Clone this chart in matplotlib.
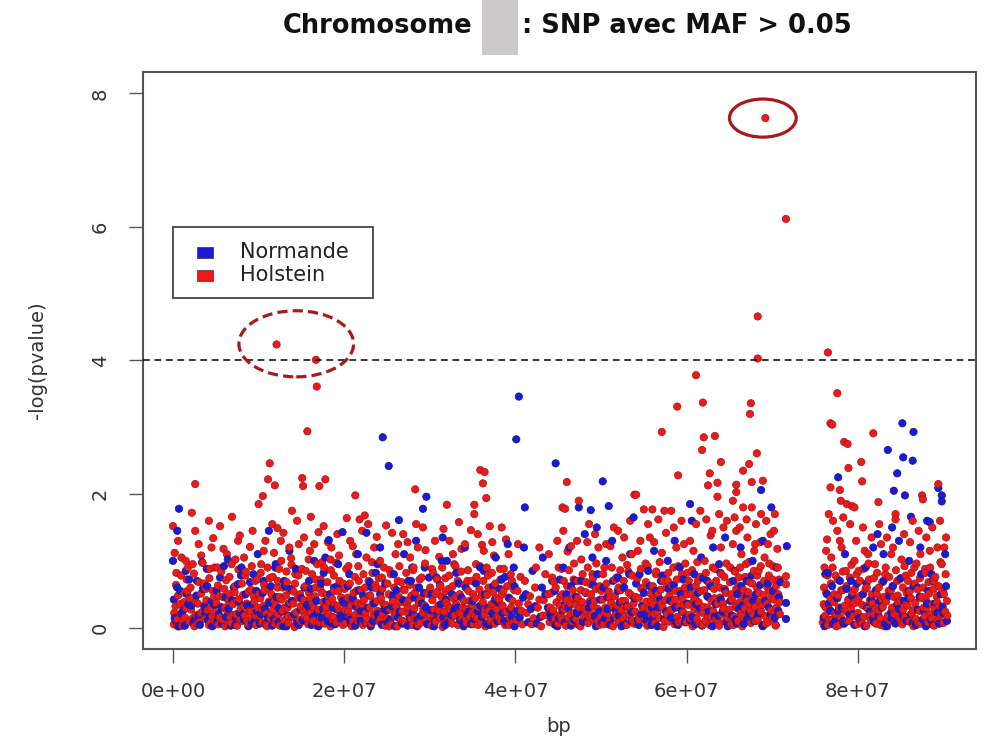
import numpy as np
import matplotlib.pyplot as plt
from matplotlib.patches import Ellipse, Rectangle

# Holstein SNPs : (position in Mb, -log(pvalue))
holstein = [
    # 0-5 Mb
    (0.1, 0.05), (0.3, 0.32), (0.5, 0.12), (0.6, 0.48), (0.9, 0.21), (1.1, 0.03), (1.3, 0.38), (1.4, 0.15),
    (1.7, 0.55), (1.9, 0.09), (2.1, 0.27), (2.2, 0.44), (2.5, 0.02), (2.7, 0.19), (2.9, 0.36), (3.1, 0.08),
    (3.3, 0.51), (3.5, 0.24), (3.8, 0.13), (3.9, 0.41), (4.2, 0.04), (4.4, 0.29), (4.6, 0.17), (4.8, 0.46),
    (4.9, 0.1), (0.2, 1.12), (0.4, 0.82), (1.0, 1.05), (1.6, 0.72), (2.3, 0.95), (3.0, 1.25), (3.6, 0.66),
    (4.3, 0.88), (4.7, 1.34), (0.0, 1.52), (2.2, 1.72), (4.2, 1.6), (2.6, 2.15),
    # 5-10 Mb
    (5.1, 0.22), (5.3, 0.05), (5.4, 0.47), (5.6, 0.31), (5.8, 0.12), (6.0, 0.58), (6.1, 0.02), (6.3, 0.26),
    (6.5, 0.4), (6.7, 0.16), (6.8, 0.07), (7.0, 0.35), (7.2, 0.53), (7.4, 0.2), (7.5, 0.03), (7.7, 0.43),
    (7.9, 0.28), (8.1, 0.1), (8.2, 0.49), (8.4, 0.18), (8.6, 0.36), (8.8, 0.06), (8.9, 0.25), (9.1, 0.57),
    (9.3, 0.14), (9.5, 0.39), (9.7, 0.04), (9.9, 0.3), (5.2, 0.9), (5.9, 1.18), (6.6, 0.76), (7.3, 1.02),
    (7.8, 1.38), (8.5, 0.84), (9.0, 1.21), (9.6, 0.7), (6.9, 1.66), (10.0, 1.85), (10.5, 1.97),
    # 10-15 Mb
    (10.1, 0.17), (10.2, 0.44), (10.4, 0.08), (10.6, 0.33), (10.7, 0.56), (10.9, 0.21), (11.0, 0.02), (11.2, 0.39),
    (11.4, 0.13), (11.5, 0.5), (11.7, 0.27), (11.9, 0.06), (12.0, 0.34), (12.2, 0.6), (12.3, 0.19), (12.5, 0.03),
    (12.7, 0.42), (12.8, 0.25), (13.0, 0.11), (13.2, 0.48), (13.4, 0.3), (13.5, 0.07), (13.7, 0.37), (13.9, 0.16),
    (14.1, 0.54), (14.2, 0.01), (14.4, 0.23), (14.6, 0.45), (14.8, 0.12), (14.9, 0.32), (10.3, 0.95), (10.8, 1.3),
    (11.3, 0.74), (11.8, 1.12), (12.4, 0.88), (12.9, 1.42), (13.3, 0.68), (13.8, 1.04), (14.3, 0.8), (14.7, 1.25),
    (12.2, 1.49), (13.9, 1.75), (11.1, 2.22), (11.9, 2.13), (11.3, 2.46), (15.1, 2.24), (15.2, 2.12), (17.8, 2.22),
    (17.1, 2.12), (17.0, 1.43), (16.1, 1.66), (12.1, 4.24), (16.7, 4.01), (16.8, 3.61), (15.7, 2.94),
    # 15-20 Mb
    (15.0, 0.09), (15.3, 0.41), (15.4, 0.18), (15.6, 0.29), (15.8, 0.05), (15.9, 0.52), (16.1, 0.22), (16.3, 0.36),
    (16.4, 0.1), (16.6, 0.47), (16.8, 0.03), (17.0, 0.27), (17.2, 0.58), (17.3, 0.14), (17.5, 0.38), (17.7, 0.06),
    (17.9, 0.31), (18.0, 0.49), (18.2, 0.2), (18.4, 0.02), (18.6, 0.43), (18.7, 0.16), (18.9, 0.34), (19.1, 0.08),
    (19.3, 0.55), (19.5, 0.24), (19.6, 0.12), (19.8, 0.4), (15.5, 0.85), (16.0, 1.15), (16.7, 0.72), (17.4, 0.98),
    (18.1, 1.28), (18.8, 0.78), (19.4, 1.08), (19.9, 0.66), (20.3, 1.64), (21.8, 1.62), (22.4, 1.68), (21.3, 1.98),
    (18.5, 1.2),
    # 20-25 Mb
    (20.1, 0.26), (20.2, 0.07), (20.4, 0.45), (20.6, 0.15), (20.8, 0.33), (20.9, 0.02), (21.1, 0.52), (21.3, 0.19),
    (21.5, 0.37), (21.6, 0.1), (21.8, 0.29), (22.0, 0.56), (22.2, 0.04), (22.3, 0.41), (22.5, 0.22), (22.7, 0.13),
    (22.9, 0.48), (23.0, 0.3), (23.2, 0.06), (23.4, 0.38), (23.6, 0.17), (23.7, 0.59), (23.9, 0.25), (24.1, 0.09),
    (24.3, 0.44), (24.5, 0.2), (24.6, 0.35), (24.8, 0.03), (20.5, 0.92), (21.0, 1.22), (21.7, 0.7), (22.6, 1.05),
    (23.3, 0.82), (23.8, 1.36), (24.4, 0.75), (24.9, 1.53), (22.1, 1.45),
    # 25-30 Mb
    (25.0, 0.14), (25.2, 0.5), (25.4, 0.27), (25.5, 0.05), (25.7, 0.39), (25.9, 0.18), (26.1, 0.31), (26.2, 0.02),
    (26.4, 0.46), (26.6, 0.11), (26.8, 0.24), (26.9, 0.57), (27.1, 0.08), (27.3, 0.35), (27.5, 0.2), (27.6, 0.42),
    (27.8, 0.13), (28.0, 0.04), (28.2, 0.29), (28.3, 0.53), (28.5, 0.16), (28.7, 0.37), (28.9, 0.07), (29.0, 0.45),
    (29.2, 0.22), (29.4, 0.33), (29.6, 0.1), (29.8, 0.5), (25.3, 0.86), (26.0, 1.1), (26.7, 0.68), (27.4, 1.28),
    (28.1, 0.9), (28.8, 0.72), (29.5, 1.16), (28.3, 2.07), (28.4, 1.55), (26.9, 1.4),
    # 30-35 Mb
    (30.0, 0.19), (30.2, 0.03), (30.3, 0.41), (30.5, 0.27), (30.7, 0.09), (30.9, 0.54), (31.0, 0.33), (31.2, 0.15),
    (31.4, 0.46), (31.5, 0.01), (31.7, 0.24), (31.9, 0.38), (32.1, 0.11), (32.2, 0.58), (32.4, 0.3), (32.6, 0.06),
    (32.8, 0.43), (32.9, 0.18), (33.1, 0.35), (33.3, 0.04), (33.5, 0.5), (33.6, 0.21), (33.8, 0.12), (34.0, 0.4),
    (34.2, 0.28), (34.3, 0.07), (34.5, 0.55), (34.7, 0.16), (34.9, 0.34), (30.4, 0.82), (31.1, 1.06), (31.8, 0.74),
    (32.3, 1.3), (33.0, 0.92), (33.7, 1.18), (34.4, 0.7), (32.0, 1.84), (35.2, 1.84), (35.2, 1.7), (36.6, 1.94),
    (35.9, 2.36), (36.4, 2.33), (36.2, 2.16), (34.8, 1.46),
    # 35-40 Mb
    (35.0, 0.23), (35.1, 0.05), (35.3, 0.44), (35.5, 0.14), (35.7, 0.31), (35.8, 0.57), (36.0, 0.08), (36.2, 0.38),
    (36.4, 0.19), (36.5, 0.02), (36.7, 0.49), (36.9, 0.26), (37.1, 0.12), (37.2, 0.35), (37.4, 0.53), (37.6, 0.06),
    (37.8, 0.28), (37.9, 0.17), (38.1, 0.42), (38.3, 0.1), (38.5, 0.33), (38.6, 0.55), (38.8, 0.04), (39.0, 0.24),
    (39.2, 0.45), (39.3, 0.15), (39.5, 0.3), (39.7, 0.07), (35.4, 0.95), (36.1, 1.24), (36.8, 0.78), (37.5, 1.08),
    (38.2, 0.88), (38.9, 1.32), (39.6, 0.7), (37.0, 1.52),
    # 40-45 Mb
    (40.1, 0.11), (40.4, 0.36), (40.8, 0.05), (41.3, 0.22), (41.7, 0.47), (42.1, 0.14), (42.6, 0.3), (43.0, 0.02),
    (43.3, 0.41), (43.7, 0.19), (44.0, 0.08), (44.2, 0.52), (44.4, 0.26), (44.6, 0.13), (44.8, 0.38), (40.6, 0.76),
    (42.4, 0.9), (43.9, 1.1), (44.5, 0.68), (45.8, 1.78), (45.5, 1.8), (46.0, 2.18), (47.4, 1.9), (44.9, 1.3),
    # 45-50 Mb
    (45.0, 0.06), (45.2, 0.33), (45.3, 0.18), (45.5, 0.5), (45.7, 0.27), (45.9, 0.03), (46.0, 0.41), (46.2, 0.15),
    (46.4, 0.36), (46.6, 0.09), (46.7, 0.56), (46.9, 0.22), (47.1, 0.13), (47.3, 0.44), (47.5, 0.3), (47.6, 0.02),
    (47.8, 0.38), (48.0, 0.17), (48.2, 0.53), (48.3, 0.25), (48.5, 0.07), (48.7, 0.4), (48.9, 0.2), (49.1, 0.32),
    (49.2, 0.11), (49.4, 0.58), (49.6, 0.28), (49.8, 0.04), (45.4, 0.88), (46.1, 1.14), (46.8, 0.72), (47.7, 1.02),
    (48.4, 1.28), (49.0, 0.8), (49.7, 1.2), (48.8, 0.65),
    # 50-55 Mb
    (50.0, 0.16), (50.2, 0.42), (50.3, 0.05), (50.5, 0.3), (50.7, 0.21), (50.9, 0.54), (51.0, 0.1), (51.2, 0.37),
    (51.4, 0.02), (51.6, 0.47), (51.7, 0.19), (51.9, 0.33), (52.1, 0.08), (52.3, 0.56), (52.4, 0.26), (52.6, 0.13),
    (52.8, 0.4), (53.0, 0.04), (53.1, 0.31), (53.3, 0.2), (53.5, 0.49), (53.7, 0.11), (53.8, 0.36), (54.0, 0.24),
    (54.2, 0.06), (54.4, 0.44), (54.5, 0.17), (54.7, 0.59), (54.9, 0.29), (50.4, 0.9), (51.1, 1.22), (51.8, 0.75),
    (52.5, 1.05), (53.2, 0.84), (53.9, 1.99), (54.1, 1.99), (54.6, 1.3), (55.0, 1.77), (56.0, 1.77), (53.6, 1.1),
    (52.0, 1.45),
    # 55-60 Mb
    (55.1, 0.12), (55.3, 0.39), (55.4, 0.03), (55.6, 0.27), (55.8, 0.51), (55.9, 0.18), (56.1, 0.35), (56.3, 0.07),
    (56.5, 0.45), (56.6, 0.22), (56.8, 0.14), (57.0, 0.57), (57.2, 0.3), (57.3, 0.01), (57.5, 0.41), (57.7, 0.2),
    (57.9, 0.09), (58.0, 0.48), (58.2, 0.26), (58.4, 0.37), (58.6, 0.05), (58.7, 0.55), (58.9, 0.16), (59.1, 0.32),
    (59.3, 0.1), (59.5, 0.43), (59.6, 0.23), (59.8, 0.6), (55.2, 0.96), (55.7, 1.35), (56.4, 0.8), (57.1, 1.12),
    (57.4, 1.75), (58.2, 1.75), (57.8, 0.7), (58.5, 1.5), (59.0, 0.92), (59.7, 1.25), (59.0, 2.28), (57.1, 2.93),
    (58.9, 3.31),
    # 60-65 Mb
    (60.0, 0.08), (60.2, 0.34), (60.3, 0.19), (60.5, 0.5), (60.7, 0.02), (60.9, 0.28), (61.0, 0.43), (61.2, 0.13),
    (61.4, 0.38), (61.5, 0.06), (61.7, 0.55), (61.9, 0.22), (62.0, 0.31), (62.2, 0.1), (62.4, 0.47), (62.5, 0.17),
    (62.7, 0.04), (62.9, 0.4), (63.1, 0.25), (63.2, 0.58), (63.4, 0.12), (63.6, 0.36), (63.8, 0.03), (63.9, 0.45),
    (64.1, 0.2), (64.3, 0.29), (64.5, 0.09), (64.6, 0.52), (64.8, 0.15), (60.1, 0.82), (60.8, 1.15), (61.3, 0.7),
    (61.6, 1.75), (62.1, 1.0), (62.8, 1.38), (63.3, 0.88), (63.6, 1.96), (64.0, 1.2), (64.4, 0.76), (62.7, 2.31),
    (62.5, 2.13), (63.6, 2.17), (64.0, 2.48), (61.8, 2.66), (62.0, 2.85), (63.3, 2.87), (61.9, 3.37), (61.1, 3.78),
    (64.7, 1.6),
    # 65-72 Mb
    (65.0, 0.27), (65.2, 0.05), (65.3, 0.42), (65.5, 0.16), (65.7, 0.33), (65.8, 0.58), (66.0, 0.1), (66.2, 0.38),
    (66.3, 0.21), (66.5, 0.02), (66.7, 0.47), (66.8, 0.29), (67.0, 0.13), (67.2, 0.53), (67.3, 0.35), (67.5, 0.07),
    (67.7, 0.44), (67.8, 0.19), (68.0, 0.31), (68.2, 0.6), (68.3, 0.11), (68.5, 0.39), (68.7, 0.24), (68.8, 0.04),
    (69.0, 0.49), (69.2, 0.17), (69.4, 0.36), (69.5, 0.08), (69.7, 0.55), (69.9, 0.26), (70.0, 0.14), (70.2, 0.42),
    (70.4, 0.03), (70.5, 0.3), (70.7, 0.5), (70.9, 0.2), (65.1, 0.9), (65.4, 1.25), (65.8, 1.45), (66.1, 0.75),
    (66.4, 1.1), (66.6, 1.8), (66.9, 0.95), (67.1, 1.35), (67.4, 0.68), (67.6, 1.8), (67.9, 1.15), (68.1, 1.55),
    (68.4, 0.85), (68.6, 1.28), (68.9, 2.2), (69.1, 1.05), (69.3, 1.6), (69.6, 0.78), (69.8, 1.4), (70.1, 0.92),
    (70.3, 1.7), (70.6, 1.18), (70.8, 0.72), (65.8, 2.14), (65.8, 2.03), (67.6, 2.18), (68.2, 2.61), (67.3, 2.45),
    (65.4, 1.9), (66.6, 2.35), (67.5, 3.36), (67.4, 3.2), (68.3, 4.66), (68.3, 4.03), (69.2, 7.63), (71.6, 6.12),
    (71.6, 0.77), (71.6, 0.65),
    # 76-80 Mb
    (75.9, 0.08), (76.0, 0.35), (76.2, 0.18), (76.3, 0.52), (76.5, 0.04), (76.7, 0.27), (76.8, 0.44), (77.0, 0.12),
    (77.2, 0.38), (77.3, 0.21), (77.5, 0.02), (77.7, 0.48), (77.8, 0.3), (78.0, 0.15), (78.2, 0.56), (78.3, 0.07),
    (78.5, 0.33), (78.7, 0.24), (78.9, 0.41), (79.0, 0.1), (79.2, 0.29), (79.4, 0.53), (79.5, 0.17), (79.7, 0.37),
    (79.9, 0.05), (76.1, 0.9), (76.4, 1.32), (76.6, 1.7), (76.9, 1.05), (77.4, 0.78), (77.6, 1.45), (78.1, 1.2),
    (78.6, 0.85), (79.1, 1.55), (79.6, 1.0), (76.8, 2.1), (77.9, 2.06), (78.0, 1.9), (78.7, 1.85), (79.3, 1.82),
    (79.6, 1.8), (78.9, 2.39), (78.4, 2.78), (78.8, 2.75), (76.8, 3.06), (77.0, 3.04), (77.6, 3.51), (76.5, 4.12),
    (80.5, 2.19), (80.4, 2.48), (81.8, 2.91), (82.4, 1.88),
    # 80-85 Mb
    (80.0, 0.22), (80.2, 0.47), (80.3, 0.09), (80.5, 0.34), (80.7, 0.16), (80.9, 0.58), (81.0, 0.03), (81.2, 0.28),
    (81.4, 0.41), (81.5, 0.12), (81.7, 0.36), (81.9, 0.2), (82.1, 0.06), (82.2, 0.5), (82.4, 0.26), (82.6, 0.14),
    (82.8, 0.43), (82.9, 0.31), (83.1, 0.02), (83.3, 0.39), (83.5, 0.18), (83.6, 0.55), (83.8, 0.1), (84.0, 0.3),
    (84.2, 0.46), (84.3, 0.07), (84.5, 0.23), (84.7, 0.37), (84.9, 0.13), (80.1, 0.85), (80.8, 1.15), (81.3, 0.72),
    (81.6, 1.35), (82.0, 0.95), (82.7, 1.25), (83.2, 0.8), (83.9, 1.1), (84.4, 1.7), (84.4, 1.62), (84.6, 0.7),
    # 85-91 Mb
    (85.0, 0.4), (85.2, 0.05), (85.3, 0.27), (85.5, 0.16), (85.7, 0.52), (85.8, 0.33), (86.0, 0.09), (86.2, 0.44),
    (86.3, 0.21), (86.5, 0.02), (86.7, 0.37), (86.8, 0.13), (87.0, 0.57), (87.2, 0.25), (87.3, 0.06), (87.5, 0.46),
    (87.7, 0.3), (87.8, 0.17), (88.0, 0.4), (88.2, 0.08), (88.3, 0.51), (88.5, 0.2), (88.7, 0.35), (88.9, 0.03),
    (89.0, 0.28), (89.2, 0.47), (89.4, 0.11), (89.5, 0.33), (89.7, 0.19), (89.9, 0.55), (90.0, 0.07), (90.2, 0.24),
    (90.4, 0.4), (85.1, 1.02), (85.6, 0.78), (86.1, 1.28), (86.6, 0.9), (87.1, 1.45), (87.5, 1.98), (87.6, 1.92),
    (87.9, 0.82), (88.4, 1.15), (88.9, 0.7), (89.4, 2.15), (89.3, 1.2), (89.8, 0.95), (90.3, 1.35),
]

# Holstein, bande dense du bas (0 - 1.7)
holstein_band = [
    (0.15, 0.22), (0.35, 0.64), (0.55, 0.02), (0.8, 0.35), (0.95, 0.78), (1.15, 0.11), (1.35, 0.52), (1.55, 0.29), (1.75, 0.9), (1.95, 0.43),
    (2.05, 0.6), (2.3, 0.14), (2.45, 0.81), (2.65, 0.39), (2.85, 0.06), (3.05, 0.68), (3.25, 0.22), (3.45, 0.97), (3.65, 0.33), (3.85, 0.58),
    (4.05, 0.26), (4.25, 0.74), (4.45, 0.08), (4.65, 0.55), (4.85, 0.9), (5.05, 0.37), (5.25, 0.63), (5.45, 0.15), (5.65, 0.84), (5.85, 0.46),
    (6.05, 0.3), (6.2, 0.71), (6.45, 0.05), (6.6, 0.5), (6.85, 0.95), (7.05, 0.19), (7.25, 0.62), (7.45, 0.4), (7.65, 0.87), (7.85, 0.12),
    (8.05, 0.66), (8.25, 0.32), (8.45, 0.78), (8.65, 0.1), (8.85, 0.54), (9.05, 0.24), (9.2, 0.92), (9.45, 0.47), (9.65, 0.18), (9.85, 0.72),
    (10.05, 0.5), (10.25, 0.82), (10.45, 0.28), (10.65, 0.64), (10.85, 0.04), (11.05, 0.9), (11.25, 0.58), (11.45, 0.2), (11.65, 0.76), (11.85, 0.4),
    (12.05, 0.1), (12.25, 0.7), (12.45, 0.46), (12.65, 1.0), (12.85, 0.6), (13.05, 0.3), (13.25, 0.84), (13.45, 0.17), (13.65, 0.56), (13.85, 0.94),
    (14.05, 0.36), (14.25, 0.66), (14.45, 0.05), (14.65, 0.78), (14.85, 0.5), (15.05, 0.88), (15.25, 0.24), (15.45, 0.62), (15.65, 0.14), (15.85, 1.02),
    (16.05, 0.44), (16.25, 0.8), (16.45, 0.3), (16.65, 0.6), (16.85, 0.95), (17.05, 0.08), (17.25, 0.72), (17.45, 0.52), (17.65, 0.9), (17.85, 0.25),
    (18.05, 0.68), (18.25, 0.38), (18.45, 0.86), (18.65, 0.12), (18.85, 0.55), (19.05, 0.97), (19.25, 0.32), (19.45, 0.7), (19.65, 0.45), (19.85, 0.04),
    (20.05, 0.58), (20.25, 0.88), (20.45, 0.24), (20.65, 0.66), (20.85, 0.42), (21.05, 0.1), (21.25, 0.76), (21.45, 0.55), (21.65, 0.92), (21.85, 0.18),
    (22.05, 0.35), (22.25, 0.8), (22.45, 0.6), (22.65, 0.07), (22.85, 0.7), (23.05, 0.48), (23.25, 0.98), (23.45, 0.2), (23.65, 0.64), (23.85, 0.4),
    (24.05, 0.74), (24.25, 0.13), (24.45, 0.58), (24.65, 0.9), (24.85, 0.34), (25.05, 0.66), (25.25, 0.02), (25.45, 0.8), (25.65, 0.45), (25.85, 0.6),
    (26.05, 0.2), (26.25, 0.7), (26.45, 0.92), (26.65, 0.38), (26.85, 0.1), (27.05, 0.56), (27.25, 0.82), (27.45, 0.3), (27.65, 0.64), (27.85, 0.48),
    (28.05, 0.86), (28.25, 0.16), (28.45, 0.6), (28.65, 0.04), (28.85, 0.42), (29.05, 0.75), (29.25, 0.28), (29.45, 0.96), (29.65, 0.52), (29.85, 0.2),
    (30.05, 0.6), (30.25, 0.88), (30.45, 0.12), (30.65, 0.5), (30.85, 0.72), (31.05, 0.26), (31.25, 0.62), (31.45, 0.9), (31.65, 0.06), (31.85, 0.54),
    (32.05, 0.34), (32.25, 0.78), (32.45, 0.14), (32.65, 0.62), (32.85, 0.95), (33.05, 0.46), (33.25, 0.7), (33.45, 0.22), (33.65, 0.84), (33.85, 0.3),
    (34.05, 0.64), (34.25, 0.12), (34.45, 0.86), (34.65, 0.4), (34.85, 0.7), (35.05, 0.5), (35.25, 0.18), (35.45, 0.76), (35.65, 0.04), (35.85, 0.92),
    (36.05, 0.48), (36.25, 0.7), (36.45, 0.28), (36.65, 0.9), (36.85, 0.6), (37.05, 0.1), (37.25, 0.82), (37.45, 0.36), (37.65, 0.66), (37.85, 0.44),
    (38.05, 0.15), (38.25, 0.72), (38.45, 0.5), (38.65, 0.88), (38.85, 0.24), (39.05, 0.62), (39.25, 0.04), (39.45, 0.8), (39.65, 0.4), (39.85, 0.56),
    (40.25, 0.55), (40.7, 0.25), (41.1, 0.7), (41.5, 0.35), (41.9, 0.05), (42.3, 0.6), (42.8, 0.42), (43.2, 0.18), (43.5, 0.8), (43.85, 0.5),
    (44.05, 0.3), (44.3, 0.75), (44.7, 0.6), (45.05, 0.9), (45.25, 0.46), (45.45, 0.12), (45.65, 0.7), (45.85, 0.32), (44.55, 0.05), (44.9, 0.18),
    (46.05, 0.62), (46.25, 0.86), (46.45, 0.2), (46.65, 0.44), (46.85, 0.96), (47.05, 0.34), (47.25, 0.7), (47.45, 0.06), (47.65, 0.56), (47.85, 0.8),
    (48.05, 0.28), (48.25, 0.68), (48.45, 0.9), (48.65, 0.16), (48.85, 0.5), (49.05, 0.74), (49.25, 0.4), (49.45, 0.96), (49.65, 0.1), (49.85, 0.62),
    (50.05, 0.55), (50.25, 0.8), (50.45, 0.22), (50.65, 0.66), (50.85, 0.05), (51.05, 0.44), (51.25, 0.9), (51.45, 0.3), (51.65, 0.72), (51.85, 0.14),
    (52.05, 0.6), (52.25, 0.86), (52.45, 0.4), (52.65, 0.7), (52.85, 0.18), (53.05, 0.94), (53.25, 0.52), (53.45, 0.26), (53.65, 0.78), (53.85, 0.06),
    (54.05, 0.46), (54.25, 0.74), (54.45, 0.12), (54.65, 0.88), (54.85, 0.58), (55.05, 0.3), (55.25, 0.68), (55.45, 0.92), (55.65, 0.04), (55.85, 0.4),
    (56.05, 0.62), (56.25, 0.2), (56.45, 0.84), (56.65, 0.5), (56.85, 0.98), (57.05, 0.36), (57.25, 0.7), (57.45, 0.1), (57.65, 0.6), (57.85, 0.82),
    (58.05, 0.26), (58.25, 0.64), (58.45, 0.9), (58.65, 0.42), (58.85, 0.72), (59.05, 0.08), (59.25, 0.55), (59.45, 0.8), (59.65, 0.34), (59.85, 0.96),
    (60.05, 0.5), (60.25, 0.7), (60.45, 0.14), (60.65, 0.86), (60.85, 0.4), (61.05, 0.62), (61.25, 0.98), (61.45, 0.24), (61.65, 0.76), (61.85, 0.04),
    (62.05, 0.56), (62.25, 0.82), (62.45, 0.3), (62.65, 0.66), (62.85, 0.16), (63.05, 0.9), (63.25, 0.44), (63.45, 0.7), (63.65, 0.1), (63.85, 0.6),
    (64.05, 0.8), (64.25, 0.36), (64.45, 0.58), (64.65, 0.96), (64.85, 0.22), (65.05, 0.68), (65.25, 0.5), (65.45, 0.04), (65.65, 0.84), (65.85, 0.3),
    (66.05, 0.62), (66.25, 0.9), (66.45, 0.18), (66.65, 0.56), (66.85, 0.76), (67.05, 0.4), (67.25, 0.98), (67.45, 0.26), (67.65, 0.66), (67.85, 0.85),
    (68.05, 0.1), (68.25, 0.78), (68.45, 0.52), (68.65, 0.92), (68.85, 0.34), (69.05, 0.7), (69.25, 0.06), (69.45, 0.6), (69.65, 0.96), (69.85, 0.44),
    (70.05, 0.72), (70.25, 0.22), (70.45, 0.62), (70.65, 0.9), (70.85, 0.38),
    (76.05, 0.6), (76.25, 0.3), (76.45, 0.78), (76.65, 0.12), (76.85, 0.66), (77.05, 0.9), (77.25, 0.5), (77.45, 0.2), (77.65, 0.72), (77.85, 0.04),
    (78.05, 0.56), (78.25, 0.84), (78.45, 0.26), (78.65, 0.62), (78.85, 0.1), (79.05, 0.75), (79.25, 0.94), (79.45, 0.36), (79.65, 0.58), (79.85, 0.8),
    (80.05, 0.42), (80.25, 0.7), (80.45, 0.06), (80.65, 0.88), (80.85, 0.32), (81.05, 0.6), (81.25, 0.96), (81.45, 0.18), (81.65, 0.5), (81.85, 0.74),
    (82.05, 0.28), (82.25, 0.82), (82.45, 0.6), (82.65, 0.04), (82.85, 0.68), (83.05, 0.46), (83.25, 0.9), (83.45, 0.14), (83.65, 0.76), (83.85, 0.56),
    (84.05, 0.62), (84.25, 0.2), (84.45, 0.86), (84.65, 0.48), (84.85, 0.72), (85.05, 0.1), (85.25, 0.6), (85.45, 0.92), (85.65, 0.35), (85.85, 0.7),
    (86.05, 0.54), (86.25, 0.82), (86.45, 0.26), (86.65, 0.66), (86.85, 0.96), (87.05, 0.08), (87.25, 0.74), (87.45, 0.44), (87.65, 0.6), (87.85, 0.88),
    (88.05, 0.3), (88.25, 0.68), (88.45, 0.9), (88.65, 0.14), (88.85, 0.58), (89.05, 0.76), (89.25, 0.38), (89.45, 0.62), (89.65, 0.98), (89.85, 0.2),
    (90.05, 0.5), (90.25, 0.8), (90.45, 0.18),
    (0.6, 1.3), (1.5, 1.0), (2.6, 1.45), (3.3, 1.08), (4.5, 1.2), (5.5, 1.52), (6.3, 1.1), (7.6, 1.3), (8.3, 1.05), (9.3, 1.45),
    (10.6, 1.15), (11.6, 1.55), (12.6, 1.3), (13.6, 1.2), (14.5, 1.6), (15.3, 1.35), (16.5, 1.25), (17.6, 1.52), (18.4, 1.02), (19.2, 1.4),
    (20.7, 1.3), (21.4, 1.1), (22.8, 1.55), (23.5, 1.2), (24.2, 1.0), (25.6, 1.42), (26.3, 1.25), (27.7, 1.05), (28.6, 1.2), (29.2, 1.5),
    (30.6, 1.3), (31.6, 1.48), (32.7, 1.1), (33.4, 1.58), (34.1, 1.25), (35.6, 1.4), (36.3, 1.15), (37.3, 1.28), (38.4, 1.5), (39.2, 1.1),
    (40.3, 1.25), (42.8, 1.2), (45.6, 1.45), (46.5, 1.22), (47.2, 1.3), (48.6, 1.55), (49.3, 1.4), (50.6, 1.25), (51.5, 1.5), (52.7, 1.35),
    (53.4, 1.6), (54.3, 1.15), (55.5, 1.55), (56.2, 1.28), (56.7, 1.62), (57.6, 1.42), (58.8, 1.2), (59.4, 1.6), (60.4, 1.3), (61.1, 1.55),
    (62.3, 1.62), (63.0, 1.45), (63.8, 1.7), (64.3, 1.5), (65.6, 1.65), (66.2, 1.5), (67.0, 1.62), (68.0, 1.25), (68.7, 1.7), (69.5, 1.25),
    (70.2, 1.45), (76.3, 1.15), (77.1, 1.6), (77.9, 1.3), (78.3, 1.65), (79.8, 1.3), (80.6, 1.5), (81.2, 1.1), (82.5, 1.55), (83.4, 1.35),
    (84.1, 1.2), (85.4, 1.4), (86.4, 1.6), (87.3, 1.1), (88.0, 1.35), (88.7, 1.5), (89.6, 1.6), (90.1, 1.2),
]

# Normande SNPs : (position in Mb, -log(pvalue))
normande = [
    (0.2, 0.14), (0.7, 0.02), (1.2, 0.26), (1.8, 0.35), (2.4, 0.07), (3.0, 0.18), (3.7, 0.31), (4.1, 0.11),
    (4.5, 0.39), (0.5, 0.6), (1.5, 0.85), (2.8, 0.7), (3.4, 0.98), (4.0, 0.62), (0.7, 1.78), (0.5, 1.45), (0.0, 1.0),
    (5.2, 0.09), (5.7, 0.3), (6.2, 0.16), (6.9, 0.41), (7.3, 0.04), (7.8, 0.22), (8.3, 0.12), (8.7, 0.33),
    (9.2, 0.06), (9.8, 0.25), (5.5, 0.75), (6.4, 1.02), (7.6, 0.65), (8.0, 0.9), (9.4, 0.8), (9.9, 1.1),
    (10.3, 0.2), (10.8, 0.05), (11.3, 0.37), (11.8, 0.13), (12.4, 0.29), (12.9, 0.02), (13.4, 0.18), (13.9, 0.4),
    (14.5, 0.08), (14.9, 0.27), (11.2, 1.45), (10.6, 0.7), (12.0, 0.95), (13.1, 0.62), (13.6, 1.15), (14.6, 0.85),
    (15.2, 0.11), (15.7, 0.34), (16.2, 0.04), (16.9, 0.23), (17.4, 0.15), (17.9, 0.4), (18.5, 0.07), (19.0, 0.28),
    (19.7, 0.13), (18.2, 1.31), (19.8, 1.43), (15.9, 0.7), (16.5, 1.0), (17.6, 0.82), (18.8, 0.6), (19.3, 0.95),
    (20.3, 0.17), (20.8, 0.05), (21.4, 0.31), (21.9, 0.1), (22.4, 0.24), (23.1, 0.02), (23.5, 0.36), (24.0, 0.14),
    (24.7, 0.28), (22.6, 1.42), (24.5, 2.85), (25.2, 2.42), (20.6, 0.8), (21.6, 1.1), (23.0, 0.68), (23.9, 0.95),
    (24.2, 1.2),
    (25.1, 0.07), (25.6, 0.32), (26.3, 0.15), (26.4, 1.61), (26.9, 0.41), (27.4, 0.03), (28.0, 0.22), (28.6, 0.12),
    (29.1, 0.36), (29.7, 0.05), (29.6, 1.96), (29.2, 1.78), (25.8, 0.8), (27.0, 1.1), (27.8, 0.7), (28.4, 1.3),
    (29.4, 0.9),
    (30.1, 0.26), (30.6, 0.1), (31.3, 0.35), (31.8, 0.04), (32.5, 0.19), (33.2, 0.3), (33.9, 0.08), (34.6, 0.24),
    (30.8, 0.75), (32.0, 1.0), (33.4, 0.66), (34.1, 1.2), (31.5, 1.35),
    (35.2, 0.13), (35.9, 0.33), (36.6, 0.06), (37.3, 0.21), (38.0, 0.38), (38.7, 0.1), (39.4, 0.27), (39.9, 0.02),
    (36.3, 0.85), (37.7, 1.05), (38.4, 0.72), (39.1, 1.25), (39.8, 0.9),
    (40.2, 0.25), (40.9, 0.45), (41.5, 0.08), (42.3, 0.32), (42.9, 0.16), (43.5, 0.5), (44.1, 0.2), (44.7, 0.04),
    (41.1, 1.8), (41.0, 1.2), (42.0, 0.85), (43.2, 1.05), (44.3, 0.7), (40.4, 3.46), (40.1, 2.82), (44.7, 2.46),
    (47.4, 1.8), (48.8, 1.76), (50.9, 1.82), (50.2, 2.19),
    (45.1, 0.14), (45.8, 0.36), (46.5, 0.03), (47.2, 0.22), (47.9, 0.09), (48.6, 0.3), (49.3, 0.17), (49.9, 0.42),
    (45.6, 0.9), (46.3, 1.2), (47.0, 0.7), (48.1, 1.4), (49.0, 1.05), (49.5, 1.5),
    (50.1, 0.07), (50.8, 0.28), (51.5, 0.15), (52.2, 0.38), (52.9, 0.05), (53.6, 0.23), (54.3, 0.12), (54.8, 0.33),
    (50.6, 1.0), (51.3, 1.3), (52.0, 0.75), (53.4, 1.1), (53.8, 1.65), (54.5, 0.8),
    (55.2, 0.2), (55.9, 0.04), (56.7, 0.31), (57.4, 0.13), (58.1, 0.4), (58.8, 0.08), (59.4, 0.26), (59.9, 0.15),
    (55.5, 0.85), (56.2, 1.15), (57.0, 0.7), (57.8, 1.0), (58.6, 1.3), (59.2, 0.9), (60.4, 1.85), (60.6, 1.6),
    (60.4, 0.11), (61.1, 0.35), (61.8, 0.03), (62.6, 0.24), (63.3, 0.16), (64.0, 0.42), (64.7, 0.07), (60.9, 0.8),
    (61.7, 1.05), (62.4, 0.7), (63.1, 1.2), (63.8, 0.95), (64.5, 1.35),
    (65.3, 0.18), (65.9, 0.06), (66.5, 0.33), (67.1, 0.12), (67.8, 0.4), (68.4, 0.22), (69.0, 0.04), (69.6, 0.3),
    (70.3, 0.15), (70.8, 0.45), (65.6, 0.85), (66.3, 1.2), (67.0, 0.7), (67.7, 1.0), (68.7, 2.06), (68.9, 1.3),
    (69.9, 1.8), (70.5, 0.9), (71.7, 1.22), (71.6, 0.37), (71.6, 0.13),
    (76.0, 0.15), (76.6, 0.36), (77.1, 0.05), (77.7, 0.25), (78.3, 0.1), (78.9, 0.42), (79.5, 0.2), (76.2, 0.8),
    (76.5, 0.82), (77.7, 2.25), (78.5, 1.1), (79.2, 0.7),
    (80.4, 0.08), (81.1, 0.3), (81.8, 0.14), (82.5, 0.39), (83.2, 0.06), (83.9, 0.23), (84.6, 0.35), (80.9, 0.9),
    (81.8, 1.2), (82.3, 1.4), (83.5, 2.66), (84.6, 2.31), (84.2, 2.05), (85.2, 3.06), (83.0, 1.1), (84.0, 1.5),
    (84.8, 1.3),
    (85.3, 0.18), (85.9, 0.44), (86.4, 0.07), (87.0, 0.27), (87.6, 0.12), (88.1, 0.36), (88.8, 0.04), (89.3, 0.22),
    (89.9, 0.31), (90.4, 0.1), (86.5, 2.93), (85.3, 2.55), (86.4, 2.5), (85.5, 1.98), (86.2, 1.66), (88.1, 1.6),
    (88.4, 1.58), (89.4, 2.09), (89.8, 1.98), (89.8, 1.89), (86.0, 1.0), (87.3, 1.2), (88.6, 0.8), (90.2, 1.1),
    (87.0, 0.6),
]

# Normande, bande dense du bas
normande_band = [
    (0.1, 0.42), (0.4, 0.09), (0.85, 0.55), (1.05, 0.2), (1.4, 0.03), (1.65, 0.5), (1.9, 0.72),
    (2.15, 0.33), (2.55, 0.12), (2.75, 0.48), (3.15, 0.04), (3.5, 0.58), (3.8, 0.22), (3.95, 0.88),
    (4.3, 0.16), (4.6, 0.02), (4.9, 0.34), (5.1, 0.55), (5.35, 0.2), (5.75, 0.06), (5.95, 0.92),
    (6.15, 0.45), (6.5, 0.28), (6.75, 0.03), (7.1, 0.6), (7.4, 0.14), (7.7, 0.38), (7.95, 0.78),
    (8.15, 0.2), (8.5, 0.5), (8.8, 0.02), (9.0, 0.68), (9.3, 0.35), (9.55, 0.1), (9.75, 0.55),
    (10.15, 0.06), (10.5, 0.52), (10.75, 0.28), (11.1, 0.15), (11.45, 0.62), (11.6, 0.03), (11.95, 0.9),
    (12.1, 0.46), (12.35, 0.08), (12.7, 0.24), (13.0, 0.7), (13.25, 0.02), (13.55, 0.36), (13.8, 0.58),
    (14.15, 0.2), (14.35, 0.88), (14.7, 0.04), (15.0, 0.44), (15.35, 0.6), (15.6, 0.1), (15.95, 0.3),
    (16.1, 0.58), (16.4, 0.16), (16.75, 0.4), (17.0, 0.02), (17.3, 0.66), (17.55, 0.28), (17.8, 1.05),
    (18.1, 0.1), (18.35, 0.5), (18.7, 0.3), (18.95, 0.05), (19.2, 0.62), (19.55, 0.18), (19.9, 0.4),
    (20.1, 0.36), (20.45, 0.62), (20.7, 0.12), (21.0, 0.44), (21.3, 0.03), (21.7, 0.56), (21.95, 0.25),
    (22.2, 0.48), (22.5, 0.08), (22.8, 0.3), (23.2, 0.6), (23.4, 0.1), (23.7, 0.82), (23.95, 0.2),
    (24.2, 0.5), (24.4, 0.04), (24.8, 0.66), (25.0, 0.26), (25.4, 0.12), (25.7, 0.48), (25.95, 0.02),
    (26.1, 0.56), (26.5, 0.24), (26.8, 0.06), (27.2, 0.4), (27.5, 0.7), (27.7, 0.14), (27.95, 0.9),
    (28.2, 0.45), (28.5, 0.02), (28.75, 0.6), (29.0, 0.18), (29.3, 0.52), (29.55, 0.3), (29.9, 0.75),
    (30.2, 0.5), (30.5, 0.02), (30.9, 0.2), (31.2, 0.64), (31.6, 0.15), (31.9, 0.42), (31.4, 1.0),
    (32.2, 0.08), (32.6, 0.5), (32.9, 0.28), (33.1, 0.82), (33.5, 0.12), (33.7, 0.45), (33.95, 0.02),
    (34.2, 0.6), (34.4, 0.2), (34.8, 0.05), (35.0, 0.4), (35.4, 0.66), (35.6, 0.25), (35.9, 0.9),
    (36.1, 0.16), (36.45, 0.5), (36.8, 0.3), (37.0, 0.04), (37.4, 0.62), (37.6, 0.42), (37.9, 0.1),
    (38.2, 0.58), (38.5, 0.22), (38.8, 0.76), (39.0, 0.07), (39.3, 0.44), (39.6, 0.16), (39.9, 0.62),
    (40.5, 0.15), (41.2, 0.5), (41.8, 0.28), (42.5, 0.06), (43.1, 0.6), (43.8, 0.3),
    (44.2, 0.15), (44.6, 0.55), (44.9, 0.02), (45.2, 0.72), (45.5, 0.26), (45.8, 0.08), (45.95, 0.5),
    (46.2, 0.3), (46.5, 0.62), (46.8, 0.12), (47.1, 0.46), (47.4, 0.04), (47.7, 0.7), (47.95, 0.22),
    (48.2, 0.52), (48.4, 0.1), (48.75, 0.36), (49.1, 0.64), (49.4, 0.02), (49.6, 0.8), (49.85, 0.24),
    (50.3, 0.6), (50.5, 0.14), (50.75, 0.46), (51.1, 0.04), (51.4, 0.7), (51.7, 0.26), (51.95, 0.55),
    (52.1, 0.18), (52.4, 0.02), (52.7, 0.6), (53.0, 0.32), (53.3, 0.8), (53.55, 0.1), (53.9, 0.44),
    (54.1, 0.66), (54.4, 0.04), (54.7, 0.2), (55.0, 0.52), (55.3, 0.1), (55.7, 0.62), (55.95, 0.3),
    (56.1, 0.14), (56.4, 0.55), (56.6, 0.02), (56.9, 0.42), (57.2, 0.78), (57.6, 0.24), (57.9, 0.58),
    (58.2, 0.15), (58.5, 0.64), (58.7, 0.3), (59.0, 0.04), (59.3, 0.5), (59.6, 0.72), (59.8, 0.08),
    (60.1, 0.36), (60.5, 0.6), (60.7, 0.16), (61.0, 0.05), (61.3, 0.52), (61.6, 0.28), (61.95, 0.74),
    (62.2, 0.1), (62.5, 0.46), (62.8, 0.62), (63.0, 0.02), (63.4, 0.35), (63.7, 0.18), (63.95, 0.82),
    (64.2, 0.24), (64.5, 0.55), (64.8, 0.02), (65.1, 0.4), (65.45, 0.7), (65.7, 0.12), (65.95, 0.5),
    (66.1, 0.28), (66.4, 0.62), (66.7, 0.06), (67.0, 0.45), (67.3, 0.22), (67.6, 0.78), (67.9, 0.1),
    (68.1, 0.5), (68.3, 0.16), (68.6, 0.64), (68.9, 0.02), (69.2, 0.4), (69.5, 0.66), (69.8, 0.2),
    (70.1, 0.55), (70.4, 0.04), (70.7, 0.25), (70.95, 0.68),
    (76.1, 0.02), (76.4, 0.5), (76.8, 0.25), (77.0, 0.62), (77.4, 0.1), (77.6, 0.44), (77.9, 0.7),
    (78.1, 0.3), (78.4, 0.06), (78.7, 0.58), (79.0, 0.2), (79.3, 0.48), (79.6, 0.04), (79.9, 0.66),
    (80.1, 0.14), (80.6, 0.5), (80.8, 0.02), (81.0, 0.66), (81.4, 0.24), (81.6, 0.42), (81.9, 0.08),
    (82.1, 0.56), (82.4, 0.18), (82.8, 0.3), (83.0, 0.7), (83.4, 0.02), (83.7, 0.48), (83.95, 0.14),
    (84.1, 0.62), (84.4, 0.06), (84.8, 0.28), (85.0, 0.74), (85.4, 0.4), (85.7, 0.1), (85.95, 0.55),
    (86.2, 0.2), (86.5, 0.62), (86.8, 0.04), (87.2, 0.46), (87.4, 0.8), (87.7, 0.26), (87.95, 0.02),
    (88.2, 0.55), (88.5, 0.12), (88.8, 0.7), (89.0, 0.36), (89.5, 0.06), (89.7, 0.5), (90.0, 0.22), (90.3, 0.62),
]

breeds = ['Normande', 'Holstein']
breed_colors = ['#1A1AD8', '#EC1A1A']
breed_edges = ['#12128C', '#A01616']
x_ticks = [0, 2e7, 4e7, 6e7, 8e7]
x_tick_labels = ['0e+00', '2e+07', '4e+07', '6e+07', '8e+07']
y_ticks = [0, 2, 4, 6, 8]
threshold = 4

fig = plt.figure(figsize=(9.84, 7.43), dpi=100)
W, H = 984.0, 743.0
ax = fig.add_axes([143 / W, 1 - 649 / H, (976 - 143) / W, (649 - 72) / H])

norm_pts = normande + normande_band
hol_pts = holstein + holstein_band

# melange des deux races, trie par position pour que les couleurs se chevauchent
pos = np.array([p[0] for p in norm_pts] + [p[0] for p in hol_pts]) * 1e6
val = np.array([p[1] for p in norm_pts] + [p[1] for p in hol_pts])
fill = np.array([breed_colors[0]] * len(norm_pts) + [breed_colors[1]] * len(hol_pts))
edge = np.array([breed_edges[0]] * len(norm_pts) + [breed_edges[1]] * len(hol_pts))
order = np.argsort(pos, kind='stable')
ax.scatter(pos[order], val[order], s=28, c=fill[order], edgecolors=edge[order],
           linewidths=0.5, zorder=2)

# seuil
ax.axhline(threshold, color='black', linestyle=(0, (4.5, 3)), linewidth=1.1, zorder=3)

# SNP remarquables entoures
ax.add_patch(Ellipse((6.89e7, 7.63), 0.78e7, 0.57, fill=False, edgecolor='#A51A1A',
                     linewidth=2.3, zorder=4))
ax.add_patch(Ellipse((1.44e7, 4.25), 1.34e7, 0.99, fill=False, edgecolor='#A51A1A',
                     linewidth=2.3, linestyle=(0, (3.2, 1.6)), zorder=4))

ax.set_xlim(-0.35e7, 9.38e7)
ax.set_ylim(-0.32, 8.32)
ax.set_xticks(x_ticks)
ax.set_xticklabels(x_tick_labels)
ax.set_yticks(y_ticks)
ax.set_yticklabels([str(v) for v in y_ticks], rotation=90, va='center')
ax.tick_params(length=10, width=1.0, color='#555555', labelcolor='#333333',
               labelsize=14, pad=14)
for s in ax.spines.values():
    s.set_color('#555555')
    s.set_linewidth(1.5)

fig.text(37 / W, 1 - 360 / H, '-log(pvalue)', rotation=90, ha='center', va='center',
         fontsize=14, color='#333333')
fig.text(559 / W, 1 - 727 / H, 'bp', ha='center', va='center', fontsize=14, color='#333333')

# legende
ax.add_patch(Rectangle((0.036, 0.608), 0.240, 0.123, transform=ax.transAxes,
                       facecolor='white', edgecolor='#444444', linewidth=1.3, zorder=5))
for i, (name, col) in enumerate(zip(breeds, breed_colors)):
    yy = 0.688 - i * 0.040
    ax.add_patch(Rectangle((0.0645, yy - 0.0095), 0.020, 0.019, transform=ax.transAxes,
                           facecolor=col, edgecolor='#333333', linewidth=0.5, zorder=6))
    ax.text(0.1164, yy, name, transform=ax.transAxes, ha='left', va='center',
            fontsize=15, color='#222222', zorder=6)

# titre, avec le numero de chromosome masque
fig.text(472 / W, 1 - 26 / H, 'Chromosome', ha='right', va='center',
         fontsize=18.5, fontweight='bold', color='#111111')
fig.text(522 / W, 1 - 26 / H, ': SNP avec MAF > 0.05', ha='left', va='center',
         fontsize=18.5, fontweight='bold', color='#111111')
fig.patches.append(Rectangle((482 / W, 1 - 55 / H), 36 / W, 55 / H, transform=fig.transFigure,
                             facecolor='#CCCACB', edgecolor='none'))

fig.savefig('out.png', dpi=100)
